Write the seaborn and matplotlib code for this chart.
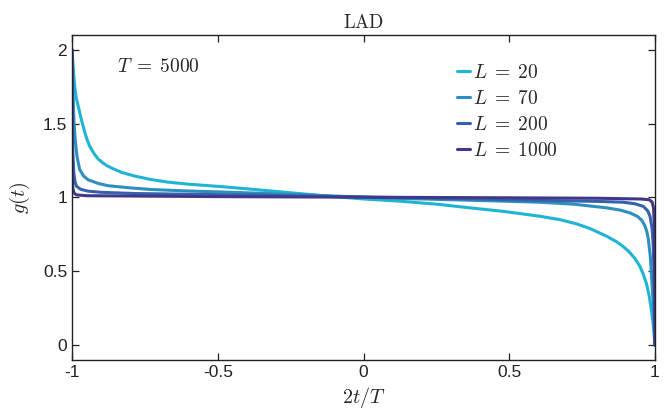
import numpy as np
import pandas as pd
import matplotlib
matplotlib.use("Agg")
import matplotlib.pyplot as plt
import seaborn as sns

# ---- data ----
x_L20 = [-1.0, -0.998, -0.996, -0.993, -0.99, -0.985, -0.979, -0.972, -0.967, -0.96,
         -0.956, -0.948, -0.94, -0.93, -0.922, -0.91, -0.895, -0.88, -0.865,
         -0.83, -0.785, -0.73, -0.671, -0.6, -0.49, -0.35, -0.15, 0.0, 0.125, 0.25,
         0.365, 0.48, 0.605, 0.674, 0.73, 0.777, 0.834, 0.87, 0.891, 0.91, 0.93,
         0.948, 0.96, 0.971, 0.98, 0.989, 0.995, 1.0]
g_L20 = [2.0, 1.94, 1.88, 1.8, 1.74, 1.67, 1.62, 1.56, 1.52, 1.47,
         1.44, 1.39, 1.35, 1.315, 1.29, 1.26, 1.235, 1.215, 1.20,
         1.17, 1.145, 1.122, 1.104, 1.09, 1.074, 1.05, 1.014, 0.99, 0.975, 0.955,
         0.93, 0.906, 0.873, 0.85, 0.822, 0.79, 0.738, 0.698, 0.668, 0.635, 0.59,
         0.535, 0.48, 0.415, 0.335, 0.22, 0.12, 0.0]

x_L70 = [-1.0, -0.998, -0.997, -0.995, -0.993, -0.989, -0.983, -0.974, -0.96, -0.945,
         -0.91, -0.877, -0.8, -0.728, -0.6, -0.465, -0.3, -0.1, 0.1, 0.3, 0.45, 0.605,
         0.72, 0.834, 0.88, 0.914, 0.94, 0.955, 0.965, 0.972, 0.977, 0.984, 0.989,
         0.994, 0.997, 1.0]
g_L70 = [2.0, 1.85, 1.75, 1.6, 1.5, 1.39, 1.28, 1.19, 1.145, 1.12,
         1.095, 1.08, 1.065, 1.054, 1.044, 1.036, 1.025, 1.01, 0.995, 0.985, 0.977, 0.968,
         0.955, 0.93, 0.915, 0.896, 0.872, 0.845, 0.81, 0.77, 0.72, 0.6, 0.44,
         0.28, 0.15, 0.0]

x_L200 = [-1.0, -0.999, -0.997, -0.994, -0.99, -0.985, -0.97, -0.945, -0.9, -0.785,
          -0.6, -0.4, -0.2, 0.0, 0.2, 0.4, 0.605, 0.8, 0.891, 0.93, 0.96, 0.975,
          0.983, 0.99, 0.994, 0.997, 0.999, 1.0]
g_L200 = [2.0, 1.6, 1.3, 1.17, 1.11, 1.077, 1.055, 1.043, 1.035, 1.027,
          1.022, 1.017, 1.01, 1.003, 0.997, 0.99, 0.98, 0.974, 0.968, 0.958, 0.94, 0.91,
          0.873, 0.79, 0.67, 0.45, 0.2, 0.0]

x_L1000 = [-1.0, -0.9995, -0.999, -0.997, -0.993, -0.985, -0.95, -0.8, -0.5, 0.0,
           0.5, 0.8, 0.95, 0.98, 0.99, 0.995, 0.998, 0.9993, 1.0]
g_L1000 = [2.0, 1.5, 1.2, 1.06, 1.03, 1.018, 1.012, 1.01, 1.006, 1.002,
           0.998, 0.995, 0.99, 0.985, 0.97, 0.93, 0.8, 0.4, 0.0]

labels = ["$L\\;=\\;20$", "$L\\;=\\;70$", "$L\\;=\\;200$", "$L\\;=\\;1000$"]
colors = ["#1fb3d6", "#2b8fc0", "#3662ad", "#40388b"]
xticks = [-1, -0.5, 0, 0.5, 1]
yticks = [0, 0.5, 1, 1.5, 2]

frames = []
for lab, xs, gs in zip(labels, [x_L20, x_L70, x_L200, x_L1000],
                       [g_L20, g_L70, g_L200, g_L1000]):
    frames.append(pd.DataFrame({"x": xs, "g": gs, "L": lab}))
df = pd.concat(frames, ignore_index=True)

sns.set_theme(style="ticks")
plt.rcParams["font.family"] = ["Liberation Sans", "DejaVu Sans"]
plt.rcParams["mathtext.fontset"] = "cm"
plt.rcParams["axes.unicode_minus"] = False

fig = plt.figure(figsize=(6.7, 4.15), dpi=100)
ax = fig.add_axes([0.1075, 0.1325, 0.8701, 0.7832])

sns.lineplot(data=df, x="x", y="g", hue="L", palette=colors, sort=False,
             estimator=None, linewidth=2.2, ax=ax)

ax.set_xlim(-1, 1)
ax.set_ylim(-0.1, 2.1)
ax.set_xticks(xticks)
ax.set_xticklabels(["-1", "-0.5", "0", "0.5", "1"])
ax.set_yticks(yticks)
ax.set_yticklabels(["0", "0.5", "1", "1.5", "2"])
ax.tick_params(direction="in", length=5, width=0.9, labelsize=12.5,
               top=True, right=True, colors="#222222", labelcolor="#222222")
for s in ax.spines.values():
    s.set_visible(True)
    s.set_linewidth(1.0)
    s.set_color("#222222")

ax.set_xlabel("$2t/T$", fontsize=14.5, labelpad=4)
ax.set_ylabel("$g(t)$", fontsize=14.5, labelpad=8)
ax.set_title("$\\mathrm{LAD}$", fontsize=13.5, pad=5)

ax.text(-0.846, 1.884, "$T\\;=\\;5000$", fontsize=14, ha="left", va="center")

handles, labs = ax.get_legend_handles_labels()
leg = ax.legend(handles, labs, loc="upper left", bbox_to_anchor=(0.66, 0.912),
                frameon=False, fontsize=14, handlelength=0.7, handletextpad=0.15,
                labelspacing=0.42, borderpad=0, borderaxespad=0)
for h in leg.get_lines():
    h.set_linewidth(2.2)

fig.savefig("out.png", dpi=100)
